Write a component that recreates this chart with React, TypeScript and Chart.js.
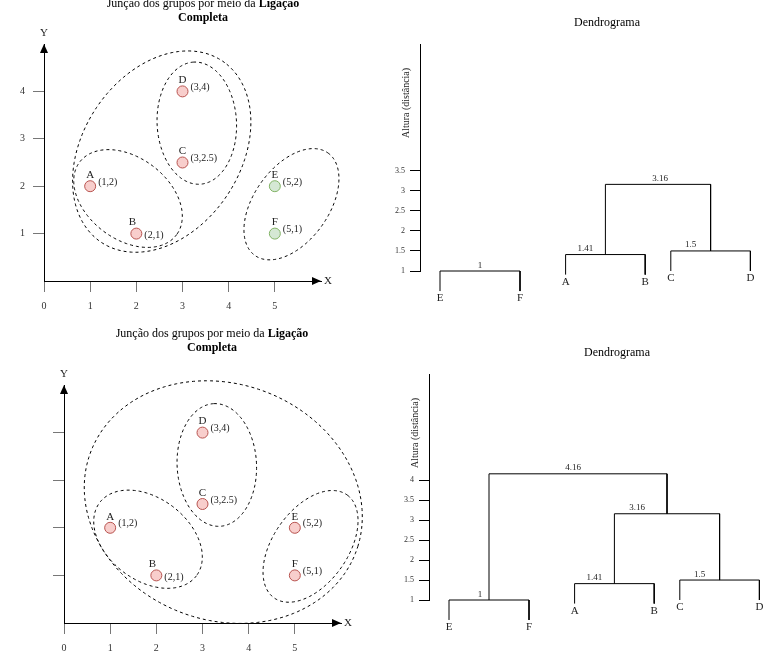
import React, { useEffect, useRef } from "react";
import { Chart, registerables } from "chart.js";

Chart.register(...registerables);

const SERIF = '"Liberation Serif", "Times New Roman", serif';
Chart.defaults.font.family = SERIF;

// ---------------- Scatter data ----------------
const pointNames = ["A", "B", "C", "D", "E", "F"];
const pointX = [1, 2, 3, 3, 5, 5];
const pointY = [2, 1, 2.5, 4, 2, 1];
const pointCoordLabels = ["(1,2)", "(2,1)", "(3,2.5)", "(3,4)", "(5,2)", "(5,1)"];
const topGreenPoints = [false, false, false, false, true, true];
const xTickValues = [0, 1, 2, 3, 4, 5];
const yTickValues = [1, 2, 3, 4];

// cluster outlines, in data units: centre x, centre y, semi-axes, angle (deg)
const topOutlineCx = [1.82, 3.31, 2.55, 5.36];
const topOutlineCy = [1.74, 3.33, 2.73, 1.62];
const topOutlineA = [1.3, 1.29, 2.32, 1.34];
const topOutlineB = [0.87, 0.86, 1.69, 0.8];
const topOutlineAngle = [-35, 93, 54, 53];

const bottomOutlineCx = [1.82, 3.31, 5.34, 3.45];
const bottomOutlineCy = [1.76, 3.32, 1.61, 2.54];
const bottomOutlineA = [1.3, 1.29, 1.34, 3.06];
const bottomOutlineB = [0.87, 0.86, 0.8, 2.49];
const bottomOutlineAngle = [-35, 93, 53, -17.8];

// ---------------- Dendrogram data ----------------
const leafNames = ["E", "F", "A", "B", "C", "D"];
const leafX = [0, 2, 3.14, 5.13, 5.77, 7.76];
const mergeLeft = [0, 2, 4, 7, 6]; // node ids: 0-5 leaves, 6+ merges
const mergeRight = [1, 3, 5, 8, 9];
const mergeHeight = [1, 1.41, 1.5, 3.16, 4.16];
const mergeLabels = ["1", "1.41", "1.5", "3.16", "4.16"];
const topHeightTicks = [1, 1.5, 2, 2.5, 3, 3.5];
const bottomHeightTicks = [1, 1.5, 2, 2.5, 3, 3.5, 4];

// ---------------- helpers ----------------
function drawMixedLine(ctx: CanvasRenderingContext2D, parts: [string, boolean][], cx: number, y: number, size: number) {
  let total = 0;
  const widths: number[] = [];
  for (const [t, b] of parts) {
    ctx.font = `${b ? "bold " : ""}${size}px ${SERIF}`;
    const w = ctx.measureText(t).width;
    widths.push(w);
    total += w;
  }
  let x = cx - total / 2;
  ctx.textAlign = "left";
  ctx.textBaseline = "middle";
  parts.forEach(([t, b], i) => {
    ctx.font = `${b ? "bold " : ""}${size}px ${SERIF}`;
    ctx.fillText(t, x, y);
    x += widths[i];
  });
}

type ScatterSpec = {
  width: number;
  height: number;
  left: number;
  top: number;
  right: number;
  bottom: number;
  green: boolean;
  yLabels: boolean;
  titleX: number;
  titleY: number;
  ocx: number[];
  ocy: number[];
  oa: number[];
  ob: number[];
  oang: number[];
};

function scatterConfig(s: ScatterSpec): any {
  const red = ["#f8cecc", "#b85450"];
  const green = ["#d5e8d4", "#82b366"];
  const col = (i: number) => (s.green && topGreenPoints[i] ? green : red);
  const letterDx = [0, -4, 0, 0, 0, 0];
  const coordDy = [-4, 1.5, -4, -4, -4, -4];

  const overlay = {
    id: "scatterOverlay",
    beforeDatasetsDraw(chart: any) {
      const ctx = chart.ctx as CanvasRenderingContext2D;
      const xs = chart.scales.x;
      const ys = chart.scales.y;
      ctx.save();
      ctx.strokeStyle = "#000";
      ctx.lineWidth = 1;
      ctx.setLineDash([3, 3]);
      for (let k = 0; k < s.ocx.length; k++) {
        const phi = (s.oang[k] * Math.PI) / 180;
        ctx.beginPath();
        const n = 200;
        for (let i = 0; i <= n; i++) {
          const t = (i / n) * Math.PI * 2;
          const dx = s.oa[k] * Math.cos(t) * Math.cos(phi) - s.ob[k] * Math.sin(t) * Math.sin(phi);
          const dy = s.oa[k] * Math.cos(t) * Math.sin(phi) + s.ob[k] * Math.sin(t) * Math.cos(phi);
          const px = xs.getPixelForValue(s.ocx[k] + dx);
          const py = ys.getPixelForValue(s.ocy[k] + dy);
          if (i === 0) ctx.moveTo(px, py);
          else ctx.lineTo(px, py);
        }
        ctx.closePath();
        ctx.stroke();
      }
      ctx.restore();
    },
    afterDraw(chart: any) {
      const ctx = chart.ctx as CanvasRenderingContext2D;
      const xs = chart.scales.x;
      const ys = chart.scales.y;
      const a = chart.chartArea;
      ctx.save();
      ctx.fillStyle = "#000";
      // arrows
      ctx.beginPath();
      ctx.moveTo(a.left, a.top);
      ctx.lineTo(a.left - 4, a.top + 9);
      ctx.lineTo(a.left + 4, a.top + 9);
      ctx.closePath();
      ctx.fill();
      ctx.beginPath();
      ctx.moveTo(a.right, a.bottom);
      ctx.lineTo(a.right - 9, a.bottom - 4);
      ctx.lineTo(a.right - 9, a.bottom + 4);
      ctx.closePath();
      ctx.fill();
      // axis names
      ctx.fillStyle = "#222";
      ctx.font = `11px ${SERIF}`;
      ctx.textAlign = "center";
      ctx.textBaseline = "middle";
      ctx.fillText("Y", a.left, a.top - 11);
      ctx.textAlign = "left";
      ctx.fillText("X", a.right + 3, a.bottom);
      // point labels
      pointNames.forEach((nm, i) => {
        const px = xs.getPixelForValue(pointX[i]);
        const py = ys.getPixelForValue(pointY[i]);
        ctx.font = `11px ${SERIF}`;
        ctx.textAlign = "center";
        ctx.textBaseline = "middle";
        ctx.fillText(nm, px + letterDx[i], py - 11);
        ctx.font = `10px ${SERIF}`;
        ctx.textAlign = "left";
        ctx.fillText(pointCoordLabels[i], px + 8, py + coordDy[i]);
      });
      // title
      ctx.fillStyle = "#000";
      drawMixedLine(ctx, [["Junção dos grupos por meio da ", false], ["Ligação", true]], s.titleX, s.titleY, 12);
      drawMixedLine(ctx, [["Completa", true]], s.titleX, s.titleY + 14, 12);
      ctx.restore();
    },
  };

  return {
    type: "scatter",
    data: {
      datasets: [
        {
          data: pointX.map((x, i) => ({ x, y: pointY[i] })),
          pointRadius: 5.5,
          pointHoverRadius: 5.5,
          pointBorderWidth: 1,
          pointBackgroundColor: pointX.map((_, i) => col(i)[0]),
          pointBorderColor: pointX.map((_, i) => col(i)[1]),
          clip: false,
        },
      ],
    },
    options: {
      responsive: false,
      animation: false,
      devicePixelRatio: 1,
      events: [],
      layout: { padding: { left: 0, top: s.top, right: s.width - s.right, bottom: 0 } },
      plugins: { legend: { display: false }, tooltip: { enabled: false }, title: { display: false } },
      scales: {
        x: {
          type: "linear",
          min: 0,
          max: 6,
          afterBuildTicks: (sc: any) => {
            sc.ticks = xTickValues.map((v) => ({ value: v }));
          },
          afterFit: (sc: any) => {
            sc.height = s.height - s.bottom;
          },
          grid: { drawOnChartArea: false, drawTicks: true, tickLength: 11, color: "#777", lineWidth: 1 },
          border: { display: true, color: "#000", width: 1 },
          ticks: { padding: 8, color: "#333", font: { size: 10, family: SERIF }, autoSkip: false, maxRotation: 0 },
        },
        y: {
          type: "linear",
          min: 0,
          max: 5,
          afterBuildTicks: (sc: any) => {
            sc.ticks = yTickValues.map((v) => ({ value: v }));
          },
          afterFit: (sc: any) => {
            sc.width = s.left;
          },
          grid: { drawOnChartArea: false, drawTicks: true, tickLength: 11, color: "#777", lineWidth: 1 },
          border: { display: true, color: "#000", width: 1 },
          ticks: { display: s.yLabels, padding: 8, color: "#333", font: { size: 10, family: SERIF }, autoSkip: false },
        },
      },
    },
    plugins: [overlay],
  };
}

type DendroSpec = {
  width: number;
  height: number;
  left: number;
  top: number;
  bottom: number;
  xMax: number;
  yMax: number;
  merges: number;
  ticks: number[];
  labelDx: number[];
  titleX: number;
  titleY: number;
  axisTitleX: number;
  axisTitleY: number;
};

function nodeX(id: number): number {
  if (id < leafX.length) return leafX[id];
  const k = id - leafX.length;
  return (nodeX(mergeLeft[k]) + nodeX(mergeRight[k])) / 2;
}

function childBottom(child: number, k: number): number {
  if (child < leafX.length) return mergeHeight[k] - 0.5;
  return mergeHeight[child - leafX.length];
}

function dendroConfig(s: DendroSpec): any {
  const datasets: any[] = [];
  for (let k = 0; k < s.merges; k++) {
    const l = mergeLeft[k];
    const r = mergeRight[k];
    const h = mergeHeight[k];
    datasets.push({
      data: [
        { x: nodeX(l), y: childBottom(l, k) },
        { x: nodeX(l), y: h },
        { x: nodeX(r), y: h },
        { x: nodeX(r), y: childBottom(r, k) },
      ],
      showLine: true,
      borderColor: "#000",
      borderWidth: 1,
      pointRadius: 0,
      pointHoverRadius: 0,
      tension: 0,
      fill: false,
      clip: false,
    });
  }

  const overlay = {
    id: "dendroOverlay",
    afterDraw(chart: any) {
      const ctx = chart.ctx as CanvasRenderingContext2D;
      const xs = chart.scales.x;
      const ys = chart.scales.y;
      ctx.save();
      ctx.fillStyle = "#222";
      // merge labels
      ctx.font = `9px ${SERIF}`;
      ctx.textAlign = "center";
      ctx.textBaseline = "alphabetic";
      for (let k = 0; k < s.merges; k++) {
        const mx = (nodeX(mergeLeft[k]) + nodeX(mergeRight[k])) / 2;
        ctx.fillText(mergeLabels[k], xs.getPixelForValue(mx) + s.labelDx[k], ys.getPixelForValue(mergeHeight[k]) - 3.5);
      }
      // leaf labels
      ctx.font = `11px ${SERIF}`;
      ctx.textBaseline = "middle";
      for (let k = 0; k < s.merges; k++) {
        for (const c of [mergeLeft[k], mergeRight[k]]) {
          if (c < leafX.length) {
            ctx.fillText(leafNames[c], xs.getPixelForValue(leafX[c]), ys.getPixelForValue(childBottom(c, k)) + 7.5);
          }
        }
      }
      // title
      ctx.fillStyle = "#000";
      ctx.font = `12px ${SERIF}`;
      ctx.fillText("Dendrograma", s.titleX, s.titleY);
      // axis title
      ctx.fillStyle = "#222";
      ctx.translate(s.axisTitleX, s.axisTitleY);
      ctx.rotate(-Math.PI / 2);
      ctx.font = `10px ${SERIF}`;
      ctx.fillText("Altura (distância)", 0, 0);
      ctx.restore();
    },
  };

  return {
    type: "scatter",
    data: { datasets },
    options: {
      responsive: false,
      animation: false,
      devicePixelRatio: 1,
      events: [],
      layout: { padding: { left: 0, top: s.top, right: 0, bottom: s.height - s.bottom } },
      plugins: { legend: { display: false }, tooltip: { enabled: false }, title: { display: false } },
      scales: {
        x: { type: "linear", display: false, min: -0.5, max: s.xMax },
        y: {
          type: "linear",
          min: 1,
          max: s.yMax,
          afterBuildTicks: (sc: any) => {
            sc.ticks = s.ticks.map((v) => ({ value: v }));
          },
          afterFit: (sc: any) => {
            sc.width = s.left;
          },
          grid: { drawOnChartArea: false, drawTicks: true, tickLength: 10, color: "#000", lineWidth: 1 },
          border: { display: true, color: "#000", width: 1 },
          ticks: {
            padding: 5,
            color: "#333",
            font: { size: 8, family: SERIF },
            autoSkip: false,
            callback: (v: any) => String(v),
          },
        },
      },
    },
    plugins: [overlay],
  };
}

function ChartBox(props: { x: number; y: number; w: number; h: number; config: () => any }) {
  const ref = useRef<HTMLCanvasElement>(null);
  useEffect(() => {
    const chart = new Chart(ref.current as HTMLCanvasElement, props.config());
    return () => chart.destroy();
  }, []);
  return (
    <canvas
      ref={ref}
      width={props.w}
      height={props.h}
      style={{ position: "absolute", left: props.x, top: props.y, width: props.w, height: props.h }}
    />
  );
}

export default function App() {
  return (
    <div style={{ position: "absolute", left: 0, top: 0, width: 780, height: 660, background: "#fff", overflow: "hidden" }}>
      <ChartBox
        x={0}
        y={0}
        w={390}
        h={320}
        config={() =>
          scatterConfig({
            width: 390,
            height: 320,
            left: 44,
            top: 44,
            right: 321,
            bottom: 281,
            green: true,
            yLabels: true,
            titleX: 203,
            titleY: 4,
            ocx: topOutlineCx,
            ocy: topOutlineCy,
            oa: topOutlineA,
            ob: topOutlineB,
            oang: topOutlineAngle,
          })
        }
      />
      <ChartBox
        x={390}
        y={0}
        w={390}
        h={320}
        config={() =>
          dendroConfig({
            width: 390,
            height: 320,
            left: 30,
            top: 44,
            bottom: 271,
            xMax: 8.5,
            yMax: 6.66,
            merges: 4,
            ticks: topHeightTicks,
            labelDx: [0, -20, -20, 2, 0],
            titleX: 217,
            titleY: 23,
            axisTitleX: 16.5,
            axisTitleY: 103,
          })
        }
      />
      <ChartBox
        x={0}
        y={320}
        w={390}
        h={340}
        config={() =>
          scatterConfig({
            width: 390,
            height: 340,
            left: 64,
            top: 65,
            right: 341,
            bottom: 303,
            green: false,
            yLabels: false,
            titleX: 212,
            titleY: 14,
            ocx: bottomOutlineCx,
            ocy: bottomOutlineCy,
            oa: bottomOutlineA,
            ob: bottomOutlineB,
            oang: bottomOutlineAngle,
          })
        }
      />
      <ChartBox
        x={390}
        y={320}
        w={390}
        h={340}
        config={() =>
          dendroConfig({
            width: 390,
            height: 340,
            left: 39,
            top: 54,
            bottom: 280,
            xMax: 8.275,
            yMax: 6.66,
            merges: 5,
            ticks: bottomHeightTicks,
            labelDx: [-9, -20, -20, -30, -5],
            titleX: 227,
            titleY: 33,
            axisTitleX: 25,
            axisTitleY: 113,
          })
        }
      />
    </div>
  );
}
